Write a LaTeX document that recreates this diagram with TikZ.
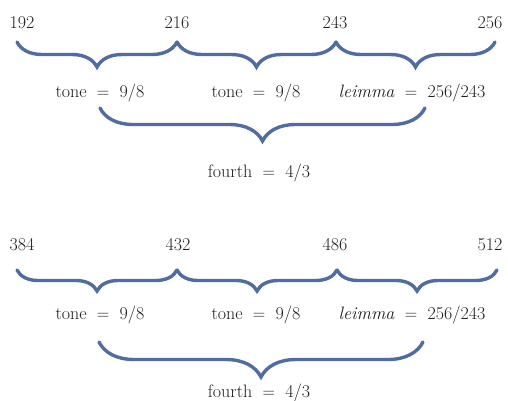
\documentclass[tikz,border=0pt]{standalone}
\usetikzlibrary{decorations.pathreplacing}
\definecolor{bracecol}{RGB}{80,108,160}
\definecolor{txtcol}{RGB}{30,30,30}
\begin{document}
\begin{tikzpicture}[x=1pt,y=-1pt,
  lbl/.style={anchor=base,inner sep=0pt,text=txtcol,font=\fontsize{18}{22}\selectfont},
  brc/.style={draw=bracecol,line width=3.4pt,line cap=round,decorate,decoration={brace,mirror,amplitude=#1}}]
\useasboundingbox (0,0) rectangle (508,400);
% top
\node[lbl] (a1) at (22,28) {192};
\node[lbl] (a2) at (177,28) {216};
\node[lbl] (a3) at (335,28) {243};
\node[lbl] (a4) at (490,28) {256};
\coordinate (ab1) at (17,42);
\coordinate (ab2) at (177,42);
\coordinate (ab3) at (336,42);
\coordinate (ab4) at (495,42);
\draw[brc=25] (ab1) -- (ab2);
\draw[brc=25] (ab2) -- (ab3);
\draw[brc=25] (ab3) -- (ab4);
\node[lbl] (at1) at (100,97) {tone ${}={}$ 9/8};
\node[lbl] (at2) at (256,97) {tone ${}={}$ 9/8};
\node[lbl] (at3) at (412,97) {\textit{leimma} ${}={}$ 256/243};
\coordinate (af1) at (100,108);
\coordinate (af2) at (425,108);
\draw[brc=33] (af1) -- (af2);
\node[lbl] (af) at (259,177) {fourth ${}={}$ 4/3};
% bottom
\node[lbl] (b1) at (22,250) {384};
\node[lbl] (b2) at (178,250) {432};
\node[lbl] (b3) at (335,250) {486};
\node[lbl] (b4) at (490,250) {512};
\coordinate (bb1) at (17,270);
\coordinate (bb2) at (177,270);
\coordinate (bb3) at (337,270);
\coordinate (bb4) at (497,270);
\draw[brc=21] (bb1) -- (bb2);
\draw[brc=21] (bb2) -- (bb3);
\draw[brc=21] (bb3) -- (bb4);
\node[lbl] (bt1) at (100,319) {tone ${}={}$ 9/8};
\node[lbl] (bt2) at (256,319) {tone ${}={}$ 9/8};
\node[lbl] (bt3) at (412,319) {\textit{leimma} ${}={}$ 256/243};
\coordinate (bf1) at (99,342);
\coordinate (bf2) at (423,342);
\draw[brc=35] (bf1) -- (bf2);
\node[lbl] (bf) at (259,397) {fourth ${}={}$ 4/3};
\end{tikzpicture}
\end{document}
